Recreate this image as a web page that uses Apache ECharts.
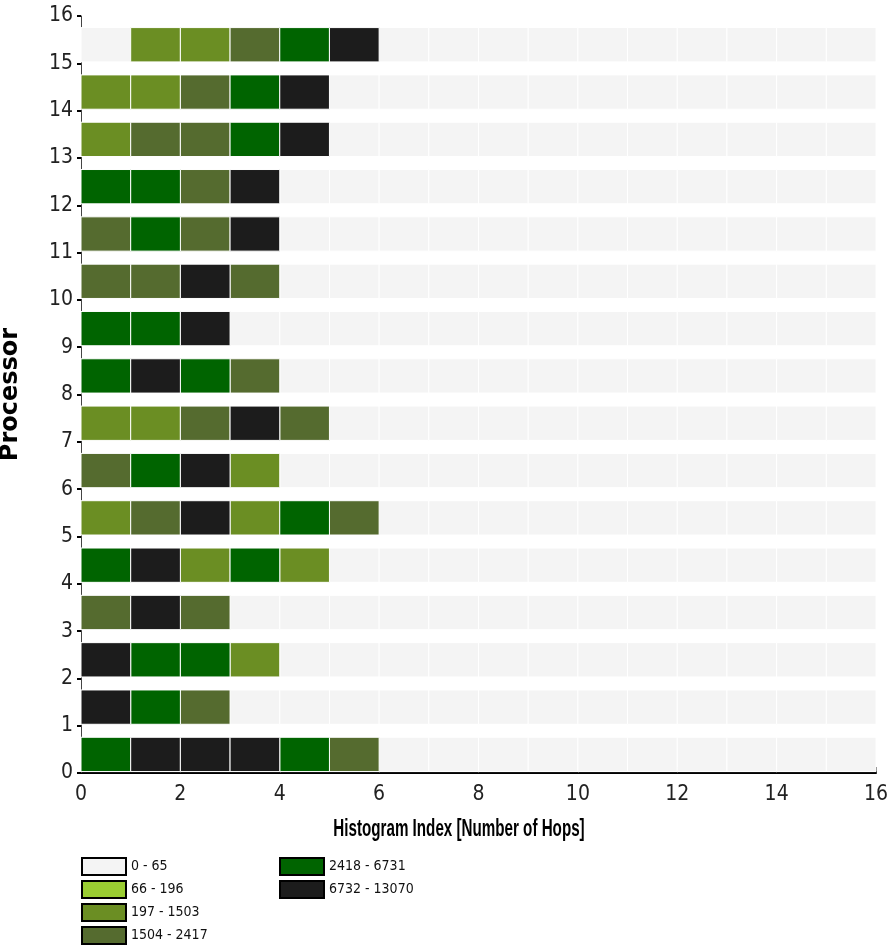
<!DOCTYPE html>
<html>
<head>
<meta charset="utf-8">
<script src="https://cdn.jsdelivr.net/npm/echarts@6/dist/echarts.min.js"></script>
<style>html,body{margin:0;padding:0;background:#fff;}#chart{width:888px;height:946px;}</style>
</head>
<body>
<div id="chart"></div>
<script>
// Hop-count classes (legend labels) and their colours
const hopClasses = ['0 - 65', '66 - 196', '197 - 1503', '1504 - 2417', '2418 - 6731', '6732 - 13070'];
const classColors = ['#f4f4f4', '#9acd32', '#6b8e23', '#556b2f', '#006400', '#1c1c1c'];

// Class index for each histogram index 0..15, per processor
const proc0  = [4,5,5,5,4,3,0,0,0,0,0,0,0,0,0,0];
const proc1  = [5,4,3,0,0,0,0,0,0,0,0,0,0,0,0,0];
const proc2  = [5,4,4,2,0,0,0,0,0,0,0,0,0,0,0,0];
const proc3  = [3,5,3,0,0,0,0,0,0,0,0,0,0,0,0,0];
const proc4  = [4,5,2,4,2,0,0,0,0,0,0,0,0,0,0,0];
const proc5  = [2,3,5,2,4,3,0,0,0,0,0,0,0,0,0,0];
const proc6  = [3,4,5,2,0,0,0,0,0,0,0,0,0,0,0,0];
const proc7  = [2,2,3,5,3,0,0,0,0,0,0,0,0,0,0,0];
const proc8  = [4,5,4,3,0,0,0,0,0,0,0,0,0,0,0,0];
const proc9  = [4,4,5,0,0,0,0,0,0,0,0,0,0,0,0,0];
const proc10 = [3,3,5,3,0,0,0,0,0,0,0,0,0,0,0,0];
const proc11 = [3,4,3,5,0,0,0,0,0,0,0,0,0,0,0,0];
const proc12 = [4,4,3,5,0,0,0,0,0,0,0,0,0,0,0,0];
const proc13 = [2,3,3,4,5,0,0,0,0,0,0,0,0,0,0,0];
const proc14 = [2,2,3,4,5,0,0,0,0,0,0,0,0,0,0,0];
const proc15 = [0,2,2,3,4,5,0,0,0,0,0,0,0,0,0,0];

const processors = [proc0,proc1,proc2,proc3,proc4,proc5,proc6,proc7,proc8,proc9,proc10,proc11,proc12,proc13,proc14,proc15];

const xTitle = 'Histogram Index [Number of Hops]';
const yTitle = 'Processor';

const narrow = "'DejaVu Sans Condensed', 'Liberation Sans Narrow', 'Arial Narrow', 'Liberation Sans', sans-serif";

function cellsOf(cls) {
  const out = [];
  processors.forEach((row, p) => row.forEach((c, h) => { if (c === cls) out.push([h, p]); }));
  return out;
}

function renderCell(params, api) {
  const x = api.value(0), y = api.value(1);
  const p0 = api.coord([x, y + 0.755]);
  const p1 = api.coord([x + 1, y + 0.03]);
  return {
    type: 'rect',
    shape: { x: p0[0], y: p0[1], width: p1[0] - p0[0], height: p1[1] - p0[1] },
    style: { fill: api.visual('color'), stroke: '#ffffff', lineWidth: 1 }
  };
}

const series = hopClasses.map((name, i) => ({
  name: name,
  type: 'custom',
  renderItem: renderCell,
  itemStyle: { color: classColors[i] },
  encode: { x: 0, y: 1 },
  data: cellsOf(i),
  silent: true,
  z: 1
}));

const legendCommon = {
  orient: 'vertical',
  itemWidth: 44,
  itemHeight: 17,
  itemGap: 4,
  height: 120,
  padding: 0,
  icon: 'rect',
  selectedMode: false,
  itemStyle: { borderColor: '#000', borderWidth: 2 },
  textStyle: { fontFamily: narrow, fontSize: 14, color: '#111' }
};

const chart = echarts.init(document.getElementById('chart'), null, { renderer: 'canvas' });
chart.setOption({
  animation: false,
  backgroundColor: '#ffffff',
  grid: { left: 81, right: 12, top: 16, bottom: 173, containLabel: false, outerBoundsMode: 'none' },
  legend: [
    Object.assign({}, legendCommon, { left: 81, top: 857, data: hopClasses.slice(0, 4) }),
    Object.assign({}, legendCommon, { left: 279, top: 857, data: hopClasses.slice(4) })
  ],
  graphic: [{
    type: 'text',
    x: 459, y: 830,
    scaleX: 0.66,
    silent: true,
    style: {
      text: xTitle,
      fontFamily: "'Liberation Sans', Arial, sans-serif",
      fontWeight: 'bold', fontSize: 23, fill: '#000',
      textAlign: 'center', textVerticalAlign: 'middle'
    }
  }],
  xAxis: {
    type: 'value', min: 0, max: 16, interval: 2,
    axisLine: { show: true, onZero: false, lineStyle: { color: '#000', width: 2 } },
    axisTick: { show: true, inside: true, length: 6, lineStyle: { color: '#333', width: 1 } },
    axisLabel: { fontFamily: narrow, fontSize: 21, color: '#222', margin: 11 },
    splitLine: { show: false }
  },
  yAxis: {
    type: 'value', min: 0, max: 16, interval: 1,
    name: yTitle,
    nameLocation: 'middle', nameGap: 58, nameRotate: 90,
    nameTextStyle: { fontFamily: "'DejaVu Sans', sans-serif", fontWeight: 'bold', fontSize: 24, color: '#000' },
    axisLine: { show: true, onZero: false, lineStyle: { color: '#444', width: 1 } },
    axisTick: { show: true, length: 4, lineStyle: { color: '#000', width: 2 } },
    axisLabel: { fontFamily: narrow, fontSize: 21, color: '#222', margin: 8 },
    splitLine: { show: false }
  },
  series: series
});
</script>
</body>
</html>
